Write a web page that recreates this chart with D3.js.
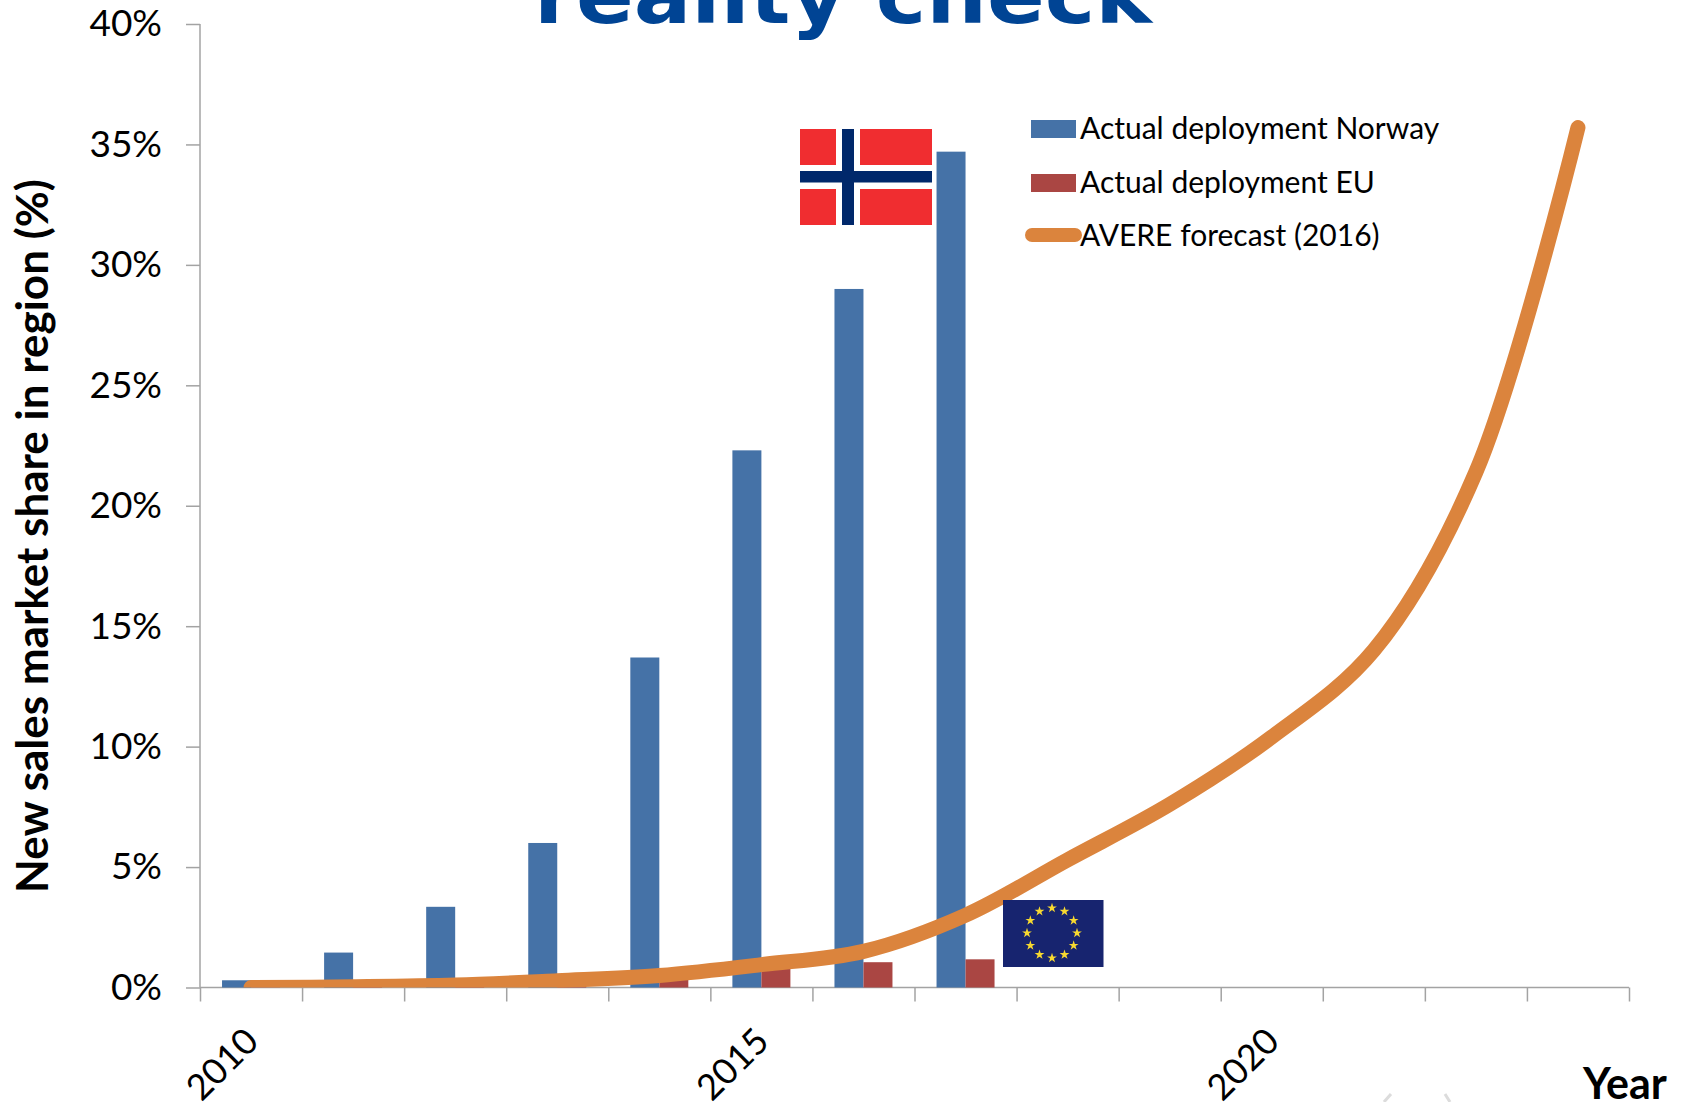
<!DOCTYPE html>
<html>
<head>
<meta charset="utf-8">
<title>Reality check</title>
<script src="https://cdn.jsdelivr.net/npm/d3@7"></script>
<style>
  html, body { margin: 0; padding: 0; background: #fff; overflow: hidden; }
  svg { display: block; }
  text { font-family: Lato, "Open Sans", sans-serif; fill: #000; }
</style>
</head>
<body>
<div id="chart"></div>
<script>
  var years = [2010, 2011, 2012, 2013, 2014, 2015, 2016, 2017, 2018, 2019, 2020, 2021, 2022, 2023];
  var labelled_years = [2010, 2015, 2020];
  var norway = [0.3, 1.45, 3.35, 6.0, 13.7, 22.3, 29.0, 34.7];
  var eu = [0.01, 0.02, 0.05, 0.1, 0.35, 0.8, 1.05, 1.17];
  var forecast = [0.0, 0.03, 0.1, 0.28, 0.5, 0.95, 1.5, 3.0, 5.3, 7.6, 10.4, 14.0, 21.4, 35.7];
  var y_ticks = [0, 5, 10, 15, 20, 25, 30, 35, 40];

  var norway_color = "#4572a7";
  var eu_color = "#aa4643";
  var forecast_color = "#db843d";
  var axis_color = "#a3a3a3";

  var width = 1685;
  var height = 1102;
  var left = 200, right = 1629, top_y = 24, bottom = 987.5;

  var svg = d3.select("#chart").append("svg")
    .attr("width", width)
    .attr("height", height);

  var x = d3.scaleBand().domain(years).range([left, right]);
  var x_edges = d3.scaleLinear().domain([0, years.length]).range([left, right]);
  var y = d3.scaleLinear().domain([0, 40]).range([bottom, top_y]);
  var bar_w = 29;

  // the forecast line gets cut at the x axis
  svg.append("clipPath").attr("id", "plot")
    .append("rect")
    .attr("x", left)
    .attr("y", 0)
    .attr("width", right - left)
    .attr("height", bottom);

  // title is cut off by the top of the slide, same as the source
  svg.append("text")
    .attr("x", 843)
    .attr("y", 23)
    .attr("text-anchor", "middle")
    .attr("textLength", 618)
    .attr("lengthAdjust", "spacingAndGlyphs")
    .style("font-family", "'DejaVu Sans'")
    .style("font-weight", "bold")
    .style("font-size", "78px")
    .style("fill", "#004494")
    .text("reality check");

  // axes
  var y_axis = svg.append("g")
    .attr("transform", "translate(" + left + ",0)")
    .call(d3.axisLeft(y).tickValues(y_ticks).tickSize(14).tickPadding(24).tickFormat(function (d) { return d + "%"; }));

  var x_axis = svg.append("g")
    .attr("transform", "translate(0," + bottom + ")")
    .call(d3.axisBottom(x_edges).tickValues(d3.range(years.length + 1)).tickSize(14).tickFormat(""));

  [y_axis, x_axis].forEach(function (g) {
    g.selectAll("path").attr("d", null);
    g.selectAll("line").attr("stroke", axis_color).attr("stroke-width", 1.5);
  });
  y_axis.append("line").attr("y1", top_y).attr("y2", bottom).attr("stroke", axis_color).attr("stroke-width", 1.5);
  x_axis.append("line").attr("x1", left).attr("x2", right).attr("stroke", axis_color).attr("stroke-width", 1.5);
  y_axis.selectAll(".tick text").style("font-size", "37px").style("font-family", "Lato").attr("fill", "#000");

  // bars
  svg.selectAll(".norway").data(norway).enter().append("rect")
    .attr("class", "norway")
    .attr("x", function (d, i) { return x(years[i]) + x.bandwidth() / 2 - bar_w; })
    .attr("y", function (d) { return y(d); })
    .attr("width", bar_w)
    .attr("height", function (d) { return bottom - y(d); })
    .attr("fill", norway_color);

  svg.selectAll(".eu").data(eu).enter().append("rect")
    .attr("class", "eu")
    .attr("x", function (d, i) { return x(years[i]) + x.bandwidth() / 2; })
    .attr("y", function (d) { return y(d); })
    .attr("width", bar_w)
    .attr("height", function (d) { return bottom - y(d); })
    .attr("fill", eu_color);

  // forecast line
  var line = d3.line()
    .x(function (d, i) { return x(years[i]) + x.bandwidth() / 2; })
    .y(function (d) { return y(d); })
    .curve(d3.curveCatmullRom.alpha(0.5));

  svg.append("path")
    .datum(forecast)
    .attr("d", line)
    .attr("clip-path", "url(#plot)")
    .attr("fill", "none")
    .attr("stroke", forecast_color)
    .attr("stroke-width", 15)
    .attr("stroke-linecap", "round");

  // x labels
  svg.selectAll(".year").data(labelled_years).enter().append("text")
    .attr("class", "year")
    .attr("text-anchor", "middle")
    .attr("transform", function (d) {
      return "translate(" + (x(d) + x.bandwidth() / 2 - 20) + ",1073) rotate(-45)";
    })
    .style("font-size", "36px")
    .text(function (d) { return d; });

  // axis titles
  svg.append("text")
    .attr("transform", "translate(48,536) rotate(-90)")
    .attr("text-anchor", "middle")
    .style("font-size", "44px")
    .style("font-weight", "bold")
    .text("New sales market share in region (%)");

  svg.append("text")
    .attr("x", 1583)
    .attr("y", 1099)
    .style("font-size", "43px")
    .style("font-weight", "bold")
    .text("Year");

  // legend
  var legend_labels = ["Actual deployment Norway", "Actual deployment EU", "AVERE forecast (2016)"];
  var legend = svg.append("g");
  legend.append("rect").attr("x", 1031).attr("y", 120).attr("width", 45).attr("height", 18).attr("fill", norway_color);
  legend.append("rect").attr("x", 1031).attr("y", 174).attr("width", 45).attr("height", 18).attr("fill", eu_color);
  legend.append("line").attr("x1", 1032).attr("x2", 1075).attr("y1", 235).attr("y2", 235)
    .attr("stroke", forecast_color).attr("stroke-width", 14).attr("stroke-linecap", "round");
  legend.selectAll("text").data(legend_labels).enter().append("text")
    .attr("x", 1080)
    .attr("y", function (d, i) { return 139 + i * 53.5; })
    .style("font-size", "30px")
    .text(function (d) { return d; });

  // norwegian flag
  var no = svg.append("g");
  no.append("rect").attr("x", 800).attr("y", 129).attr("width", 132).attr("height", 96).attr("fill", "#f02d30");
  no.append("rect").attr("x", 836).attr("y", 129).attr("width", 24).attr("height", 96).attr("fill", "#fff");
  no.append("rect").attr("x", 800).attr("y", 165).attr("width", 132).attr("height", 24).attr("fill", "#fff");
  no.append("rect").attr("x", 842).attr("y", 129).attr("width", 12).attr("height", 96).attr("fill", "#00286b");
  no.append("rect").attr("x", 800).attr("y", 171).attr("width", 132).attr("height", 11.5).attr("fill", "#00286b");

  // eu flag
  var flag = svg.append("g");
  flag.append("rect").attr("x", 1003).attr("y", 900).attr("width", 100.5).attr("height", 67).attr("fill", "#17246f");
  var star = d3.symbol().type(d3.symbolStar).size(30);
  flag.selectAll("path").data(d3.range(12)).enter().append("path")
    .attr("d", star)
    .attr("fill", "#f7d930")
    .attr("transform", function (d) {
      var a = d * Math.PI / 6;
      return "translate(" + (1052 + 25 * Math.sin(a)) + "," + (933 - 25 * Math.cos(a)) + ")";
    });

  // bit of a logo poking in at the bottom edge
  svg.append("path")
    .attr("d", "M1391,1094L1384,1102M1445,1094L1450,1102")
    .attr("stroke", "#dcdcdc")
    .attr("stroke-width", 3)
    .attr("fill", "none");
</script>
</body>
</html>
